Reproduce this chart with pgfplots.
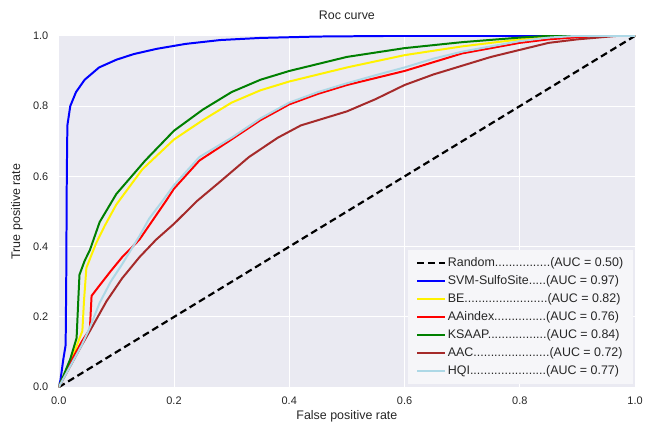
\documentclass[border=0pt]{standalone}
\usepackage{pgfplots}
\pgfplotsset{compat=1.18}
\usepackage{fontspec}
\setmainfont{Liberation Sans}

\definecolor{bgc}{HTML}{EAEAF2}
\definecolor{txt}{HTML}{262626}
\definecolor{aacbrown}{HTML}{A52A2A}
\definecolor{hqiblue}{HTML}{ADD8E6}
\definecolor{ksgreen}{HTML}{008000}

\begin{document}
\begin{tikzpicture}
\begin{axis}[
name=ax,
width=579pt, height=353pt, scale only axis,
xmin=0, xmax=1, ymin=0, ymax=1,
axis background/.style={fill=bgc},
axis line style={draw=none},
grid=major,
grid style={white, line width=1pt},
major tick length=0pt,
xtick={0,0.2,0.4,0.6,0.8,1},
xticklabels={0.0,0.2,0.4,0.6,0.8,1.0},
ytick={0,0.2,0.4,0.6,0.8,1},
yticklabels={0.0,0.2,0.4,0.6,0.8,1.0},
tick label style={font=\fontsize{11}{13}\selectfont, text=txt},
yticklabel style={xshift=-7pt},
xticklabel style={yshift=-6pt},
title={Roc curve},
title style={at={(axis description cs:0.5,1)}, anchor=center, yshift=15pt, font=\fontsize{12.5}{14}\selectfont, text=txt},
xlabel={False positive rate},
ylabel={True positive rate},
xlabel style={at={(axis description cs:0.5,-0.082)}, anchor=center, font=\fontsize{12.5}{14}\selectfont, text=txt},
ylabel style={at={(axis description cs:-0.0725,0.5)}, anchor=center, font=\fontsize{12.5}{14}\selectfont, text=txt},
legend style={at={(0.997,0.008)}, anchor=south east, fill=white!55!bgc, draw=none,
  font=\fontsize{12.5}{15}\selectfont, text=txt, row sep=3.5pt, inner xsep=8pt, inner ysep=6pt},
legend cell align=left,
legend image code/.code={\draw[line width=2pt, #1] (0pt,0pt) -- (28pt,0pt);},
]

% random guess
\addplot[black, line width=2.2pt, dash pattern=on 7pt off 4pt] coordinates {(0,0) (1,1)};
\addlegendentry{Random................(AUC = 0.50)}

% SVM-SulfoSite
\addplot[blue, line width=2pt, line join=round] coordinates {
(0,0) (0.003,0.02) (0.008,0.08) (0.012,0.12) (0.013,0.3) (0.014,0.6) (0.015,0.745)
(0.02,0.80) (0.03,0.84) (0.045,0.875) (0.07,0.91) (0.1,0.932) (0.13,0.948)
(0.17,0.963) (0.22,0.977) (0.28,0.988) (0.35,0.994) (0.45,0.998) (0.6,1) (1,1)
};
\addlegendentry{SVM-SulfoSite.....(AUC = 0.97)}

% BE
\addplot[yellow, line width=2pt, line join=round] coordinates {
(0,0) (0.02,0.07) (0.041,0.16) (0.044,0.25) (0.048,0.34) (0.065,0.41) (0.08,0.46)
(0.1,0.52) (0.145,0.62) (0.2,0.705) (0.25,0.76) (0.3,0.81) (0.35,0.845) (0.4,0.87)
(0.5,0.91) (0.6,0.945) (0.7,0.97) (0.8,0.99) (0.87,1) (1,1)
};
\addlegendentry{BE........................(AUC = 0.82)}

% AAindex
\addplot[red, line width=2pt, line join=round] coordinates {
(0,0) (0.02,0.07) (0.04,0.13) (0.054,0.165) (0.057,0.26) (0.071,0.29) (0.09,0.33)
(0.11,0.37) (0.14,0.42) (0.186,0.53) (0.2,0.565) (0.244,0.645) (0.295,0.70)
(0.35,0.76) (0.4,0.805) (0.45,0.835) (0.5,0.86) (0.55,0.88) (0.6,0.9) (0.65,0.925)
(0.7,0.95) (0.75,0.965) (0.8,0.98) (0.85,0.99) (0.9,0.996) (0.95,1) (1,1)
};
\addlegendentry{AAindex...............(AUC = 0.76)}

% KSAAP
\addplot[ksgreen, line width=2pt, line join=round] coordinates {
(0,0) (0.01,0.04) (0.02,0.08) (0.031,0.14) (0.034,0.25) (0.036,0.32) (0.045,0.36)
(0.054,0.39) (0.071,0.47) (0.1,0.55) (0.15,0.645) (0.2,0.73) (0.25,0.79) (0.3,0.84)
(0.35,0.875) (0.4,0.9) (0.5,0.94) (0.6,0.965) (0.7,0.982) (0.8,0.995) (0.85,1) (1,1)
};
\addlegendentry{KSAAP.................(AUC = 0.84)}

% AAC
\addplot[aacbrown, line width=2pt, line join=round] coordinates {
(0,0) (0.02,0.06) (0.04,0.12) (0.054,0.16) (0.083,0.245) (0.11,0.31) (0.14,0.37)
(0.169,0.42) (0.2,0.465) (0.24,0.53) (0.28,0.585) (0.33,0.655) (0.38,0.71)
(0.42,0.745) (0.5,0.785) (0.55,0.82) (0.6,0.86) (0.65,0.89) (0.7,0.915) (0.75,0.94)
(0.8,0.96) (0.85,0.98) (0.9,0.99) (0.97,1) (1,1)
};
\addlegendentry{AAC......................(AUC = 0.72)}

% HQI
\addplot[hqiblue, line width=2pt, line join=round] coordinates {
(0,0) (0.02,0.06) (0.04,0.12) (0.054,0.17) (0.071,0.24) (0.09,0.3) (0.11,0.35)
(0.14,0.43) (0.157,0.48) (0.18,0.53) (0.2,0.575) (0.244,0.655) (0.3,0.71) (0.35,0.765)
(0.4,0.81) (0.45,0.84) (0.5,0.865) (0.55,0.888) (0.6,0.91) (0.65,0.935) (0.7,0.955)
(0.75,0.97) (0.8,0.985) (0.85,0.995) (0.9,1) (1,1)
};
\addlegendentry{HQI......................(AUC = 0.77)}

\end{axis}
\path[use as bounding box] ([xshift=-59pt,yshift=-38pt]ax.south west) rectangle ([xshift=8pt,yshift=36pt]ax.north east);
\end{tikzpicture}
\end{document}
